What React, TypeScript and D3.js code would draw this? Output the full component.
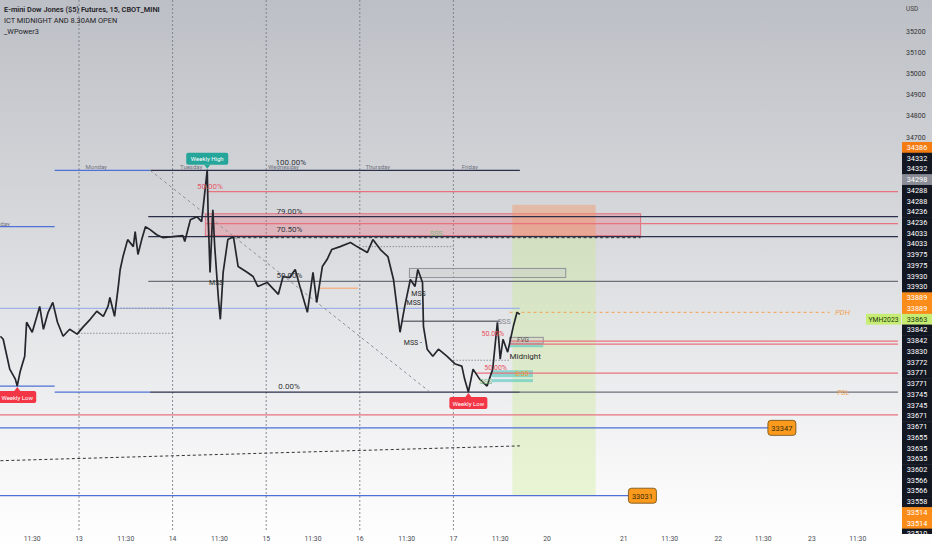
import { useEffect } from "react";
import * as d3 from "d3";

const W = 932;
const H = 550;
const PLOT_R = 898;
const PLOT_B = 530;

// price axis ticks visible above the label stack
const PRICE_TICKS = [35200, 35100, 35000, 34900, 34800, 34700];

// time axis (session days, 13th = 1)
const X_TICK_LABELS = ["11:30", "13", "11:30", "14", "11:30", "15", "11:30", "16", "11:30", "17", "11:30", "20", "21", "11:30", "22", "11:30", "23", "11:30"];
const X_TICK_T = [0.5, 1, 1.5, 2, 2.5, 3, 3.5, 4, 4.5, 5, 5.5, 6, 6.82, 7.31, 7.83, 8.31, 8.83, 9.32];
const DAY_BREAKS = [1, 2, 3, 4, 5];

// 15m price path
const SERIES_T = [0.16, 0.19, 0.23, 0.26, 0.32, 0.34, 0.37, 0.42, 0.44, 0.5, 0.55, 0.58, 0.62, 0.67, 0.72, 0.77, 0.83, 0.9, 0.98, 1.04, 1.12, 1.19, 1.26, 1.31, 1.33, 1.38, 1.42, 1.44, 1.47, 1.52, 1.58, 1.6, 1.63, 1.67, 1.71, 1.76, 1.83, 1.9, 2.0, 2.11, 2.13, 2.19, 2.26, 2.31, 2.37, 2.38, 2.4, 2.43, 2.45, 2.49, 2.51, 2.54, 2.59, 2.65, 2.7, 2.8, 2.86, 2.91, 3.01, 3.13, 3.18, 3.25, 3.31, 3.36, 3.44, 3.5, 3.54, 3.6, 3.65, 3.7, 3.79, 3.9, 3.97, 4.08, 4.14, 4.22, 4.3, 4.36, 4.4, 4.43, 4.48, 4.54, 4.59, 4.62, 4.67, 4.68, 4.72, 4.78, 4.84, 4.93, 5.02, 5.09, 5.12, 5.16, 5.21, 5.28, 5.36, 5.42, 5.47, 5.5, 5.53, 5.58, 5.64, 5.68, 5.71];
const SERIES_P = [33760, 33746, 33666, 33605, 33558, 33525, 33591, 33666, 33826, 33779, 33854, 33901, 33793, 33873, 33920, 33826, 33760, 33793, 33770, 33802, 33840, 33878, 33854, 33901, 33943, 33854, 33995, 34075, 34136, 34216, 34183, 34254, 34146, 34216, 34277, 34263, 34239, 34225, 34230, 34235, 34207, 34310, 34324, 34301, 34545, 34324, 34061, 34357, 34183, 33934, 33840, 34061, 34216, 34230, 34089, 34061, 34042, 33995, 34014, 33958, 34042, 34037, 34075, 33995, 33873, 34061, 33920, 34089, 34122, 34169, 34183, 34202, 34183, 34155, 34216, 34169, 34136, 34028, 33887, 33779, 33901, 34028, 33995, 34075, 34014, 33807, 33699, 33666, 33699, 33666, 33629, 33619, 33558, 33497, 33605, 33558, 33525, 33605, 33826, 33652, 33746, 33685, 33807, 33873, 33863];

// horizontal levels: [price, from t, to t, kind]
const LEVELS: [number, number, number, string][] = [
  [34277, -1, 0.74, "blue"],
  [33525, -1, 0.74, "blue"],
  [34543, 0.74, 1.76, "blue"],
  [34543, 1.76, 5.71, "fib"],
  [34442, 2.37, 10, "red"],
  [34324, 1.74, 10, "fib"],
  [34291, 2.35, 10, "red"],
  [34230, 1.74, 10, "fib"],
  [34225, 2.63, 7.0, "dash"],
  [34183, 4.03, 5.0, "dot"],
  [34019, 1.74, 10, "gray"],
  [33986, 3.57, 3.98, "orange"],
  [33892, -1, 5.71, "blueThin"],
  [33892, 1.44, 2.0, "dot"],
  [33774, 0.99, 2.0, "dot"],
  [33873, 5.6, 9.02, "pdh"],
  [33831, 4.45, 5.5, "gray"],
  [33737, 5.6, 10, "red"],
  [33723, 5.6, 10, "red"],
  [33647, 5.0, 5.6, "dot"],
  [33586, 5.23, 10, "red"],
  [33497, 0.74, 1.76, "blue"],
  [33497, 1.76, 5.71, "fib"],
  [33497, 5.71, 10, "gray"],
  [33389, -1, 10, "red"],
  [33328, -1, 8.36, "blue"],
  [33008, -1, 6.87, "blue"],
];

// boxes: [from t, to t, top price, bottom price, kind]
const BOXES: [number, number, number, number, string][] = [
  [2.35, 7.0, 34338, 34235, "pink"],
  [5.63, 6.52, 34380, 34235, "stop"],
  [5.63, 6.52, 34235, 33008, "target"],
  [4.53, 6.2, 34080, 34037, "grayBox"],
  [5.6, 5.96, 33755, 33727, "grayBox"],
  [5.6, 5.96, 33723, 33708, "teal"],
  [5.41, 5.85, 33600, 33567, "teal"],
  [5.41, 5.85, 33558, 33544, "teal"],
];

// annotations: [text, t, price, kind]
const NOTES: [string, number, number, string][] = [
  ["Friday", 0.26, 34280, "dayEnd"],
  ["Monday", 1.07, 34550, "day"],
  ["Tuesday", 2.08, 34550, "day"],
  ["Wednesday", 3.02, 34550, "day"],
  ["Thursday", 4.06, 34550, "day"],
  ["Friday", 5.09, 34550, "day"],
  ["100.00%", 3.1, 34568, "fib"],
  ["50.00%", 2.26, 34456, "fibRed"],
  ["79.00%", 3.11, 34338, "fib"],
  ["70.50%", 3.11, 34254, "fib"],
  ["50.00%", 3.11, 34033, "fib"],
  ["0.00%", 3.13, 33511, "fib"],
  ["SSS", 4.75, 34232, "sss"],
  ["MSS", 2.39, 34004, "mss"],
  ["MSS", 4.55, 33948, "mss"],
  ["MSS", 4.5, 33906, "mss"],
  ["MSS -", 4.47, 33718, "mss"],
  ["SSS", 5.47, 33817, "sssGray"],
  ["50.00%", 5.3, 33760, "redSmall"],
  ["50.00%", 5.33, 33603, "redSmall"],
  ["SSS", 5.28, 33535, "sss"],
  ["FVG", 5.68, 33734, "fvg"],
  ["Midnight", 5.6, 33652, "mid"],
  ["8:30", 5.66, 33572, "eight"],
  ["PDH", 9.08, 33860, "pdh"],
  ["PDL", 9.1, 33484, "pdl"],
];

// price-scale tag stack
const TAG_VALUES = [34386, 34332, 34332, 34298, 34288, 34288, 34236, 34236, 34033, 34033, 33975, 33975, 33930, 33930, 33889, 33889, 33863, 33842, 33842, 33830, 33772, 33771, 33771, 33745, 33745, 33671, 33671, 33655, 33635, 33635, 33602, 33566, 33566, 33558, 33514, 33514, 33510];
const TAG_KINDS = ["o2", "k", "k", "g", "k", "k", "k", "k", "k", "k", "k", "k", "k", "k", "o", "o", "l", "k", "k", "k", "k", "k", "k", "k", "k", "k", "k", "k", "k", "k", "k", "k", "k", "k", "o", "o", "k"];

const FONT = "Roboto, 'Open Sans', sans-serif";

const LEVEL_STYLE: Record<string, { stroke: string; w: number; dash?: string }> = {
  blue: { stroke: "#4f70d6", w: 1.3 },
  blueThin: { stroke: "#8ea6ea", w: 1 },
  fib: { stroke: "#2b2f4a", w: 1.2 },
  red: { stroke: "#e8727e", w: 1.2 },
  gray: { stroke: "#6d7079", w: 1.3 },
  dash: { stroke: "#303030", w: 1, dash: "3,2.5" },
  dot: { stroke: "#8d9098", w: 1, dash: "1.5,1.5" },
  pdh: { stroke: "#f3a14f", w: 1, dash: "3,3" },
  orange: { stroke: "#f4b58c", w: 1.5 },
};

const BOX_STYLE: Record<string, { fill: string; stroke: string }> = {
  pink: { fill: "rgba(240,90,110,0.28)", stroke: "rgba(226,80,100,0.7)" },
  stop: { fill: "rgba(245,150,100,0.45)", stroke: "none" },
  target: { fill: "rgba(200,235,140,0.35)", stroke: "none" },
  grayBox: { fill: "rgba(200,200,200,0.35)", stroke: "#8f9299" },
  teal: { fill: "rgba(80,200,190,0.6)", stroke: "none" },
};

const NOTE_STYLE: Record<string, { fill: string; size: number; anchor?: string; italic?: boolean }> = {
  day: { fill: "#6f7380", size: 6 },
  dayEnd: { fill: "#6f7380", size: 6, anchor: "end" },
  fib: { fill: "#33353d", size: 8 },
  fibRed: { fill: "#e55b6a", size: 8 },
  sss: { fill: "#7cb87a", size: 7 },
  sssGray: { fill: "#8a8d95", size: 7.5 },
  mss: { fill: "#2a2a2a", size: 7 },
  redSmall: { fill: "#e8505e", size: 7 },
  fvg: { fill: "#555", size: 6.5, italic: true },
  mid: { fill: "#2a2a2a", size: 8 },
  eight: { fill: "#f0a030", size: 7 },
  pdh: { fill: "#f3a14f", size: 7.5, italic: true },
  pdl: { fill: "#f3a14f", size: 6.5 },
};

const TAG_FILL: Record<string, string> = {
  k: "#131722",
  o: "#fb8c1a",
  o2: "#f57c12",
  g: "#8a8d96",
  l: "#c6ec74",
};

export default function App() {
  useEffect(() => {
    document.body.style.margin = "0";
  }, []);

  const x = d3.scaleLinear().domain([1, 6]).range([79, 547]);
  const y = d3.scaleLinear().domain([34700, 35200]).range([137, 31]);

  const pricePath = d3
    .line<number>()
    .x((_, i) => x(SERIES_T[i]))
    .y((d) => y(d))(SERIES_P);

  const tagTop = 142;
  const tagStep = 10.74;

  const highP = d3.max(SERIES_P)!;
  const highT = SERIES_T[SERIES_P.indexOf(highP)];
  const lows: [number, number][] = [
    [0.34, 33525],
    [5.16, 33497],
  ];

  return (
    <svg width={W} height={H} style={{ display: "block" }} fontFamily={FONT}>
      <defs>
        <linearGradient id="bg" x1="0" y1="0" x2="0" y2="1">
          <stop offset="0" stopColor="#bcbfc5" />
          <stop offset="0.45" stopColor="#d9dbde" />
          <stop offset="0.85" stopColor="#f7f7f8" />
          <stop offset="1" stopColor="#ffffff" />
        </linearGradient>
        <clipPath id="plot">
          <rect x={0} y={0} width={PLOT_R} height={PLOT_B} />
        </clipPath>
        <clipPath id="axis">
          <rect x={PLOT_R} y={0} width={W - PLOT_R} height={534} />
        </clipPath>
      </defs>
      <rect width={W} height={H} fill="url(#bg)" />

      <g clipPath="url(#plot)">
        {DAY_BREAKS.map((d) => (
          <line key={d} x1={x(d)} x2={x(d)} y1={0} y2={PLOT_B} stroke="#7c7f87" strokeDasharray="2,2" strokeWidth={0.9} />
        ))}

        {BOXES.map(([t0, t1, p0, p1, k], i) => (
          <rect
            key={i}
            x={x(t0)}
            y={y(p0)}
            width={x(t1) - x(t0)}
            height={y(p1) - y(p0)}
            fill={BOX_STYLE[k].fill}
            stroke={BOX_STYLE[k].stroke}
            strokeWidth={1}
          />
        ))}

        {LEVELS.map(([p, t0, t1, k], i) => (
          <line
            key={i}
            x1={x(t0)}
            x2={x(t1)}
            y1={y(p)}
            y2={y(p)}
            stroke={LEVEL_STYLE[k].stroke}
            strokeWidth={LEVEL_STYLE[k].w}
            strokeDasharray={LEVEL_STYLE[k].dash}
          />
        ))}

        {/* sloped dashed trend line and fib diagonal */}
        <line x1={x(0.16)} y1={y(33173)} x2={x(5.71)} y2={y(33243)} stroke="#333" strokeDasharray="3,2.5" strokeWidth={1} />
        <line x1={x(1.76)} y1={y(34543)} x2={x(4.75)} y2={y(33497)} stroke="#8d9098" strokeDasharray="3,3" strokeWidth={1} />

        <path d={pricePath ?? ""} fill="none" stroke="#23262c" strokeWidth={1.7} strokeLinejoin="bevel" />

        {NOTES.map(([txt, t, p, k], i) => {
          const s = NOTE_STYLE[k];
          return (
            <text
              key={i}
              x={x(t)}
              y={y(p)}
              fontSize={s.size}
              fill={s.fill}
              textAnchor={s.anchor ?? "start"}
              fontStyle={s.italic ? "italic" : "normal"}
            >
              {txt}
            </text>
          );
        })}

        {/* weekly high marker */}
        <g transform={`translate(${x(highT)},${y(highP)})`}>
          <path d="M-3,-5 L0,-1 L3,-5 Z" fill="#26a69a" />
          <rect x={-21} y={-17} width={42} height={12} rx={2} fill="#26a69a" />
          <text x={0} y={-8.5} textAnchor="middle" fontSize={6} fill="#fff">
            Weekly High
          </text>
        </g>
        {lows.map(([t, p], i) => (
          <g key={i} transform={`translate(${x(t)},${y(p)})`}>
            <path d="M-3,5 L0,1 L3,5 Z" fill="#f23645" />
            <rect x={-19} y={5} width={38} height={12} rx={2} fill="#f23645" />
            <text x={0} y={13.5} textAnchor="middle" fontSize={6} fill="#fff">
              Weekly Low
            </text>
          </g>
        ))}

        {/* target price tags */}
        {[
          [8.36, 33328, "33347"],
          [6.87, 33008, "33031"],
        ].map(([t, p, s], i) => (
          <g key={i} transform={`translate(${x(t as number)},${y(p as number)})`}>
            <rect x={0} y={-7.5} width={28} height={15} rx={3} fill="#fb9a1c" stroke="#6b4a10" strokeWidth={0.8} />
            <text x={14} y={2.8} textAnchor="middle" fontSize={7.5} fill="#3a2a10">
              {s as string}
            </text>
          </g>
        ))}
      </g>

      {/* header */}
      <g fontSize={7.4} fill="#1f2228">
        <text x={4} y={12} fontWeight={600}>
          E-mini Dow Jones ($5) Futures, 15, CBOT_MINI
        </text>
        <text x={4} y={23}>ICT MIDNIGHT AND 8.30AM OPEN</text>
        <text x={4} y={34}>_WPower3</text>
      </g>

      {/* price axis */}
      <text x={906} y={11} fontSize={6.5} fill="#444">
        USD
      </text>
      {PRICE_TICKS.map((p) => (
        <text key={p} x={906} y={y(p) + 2.5} fontSize={7} fill="#333">
          {p}
        </text>
      ))}
      <g clipPath="url(#axis)">
        {TAG_VALUES.map((v, i) => {
          const k = TAG_KINDS[i];
          const cy = tagTop + i * tagStep;
          return (
            <g key={i}>
              <rect x={902} y={cy} width={30} height={tagStep + 0.5} fill={TAG_FILL[k]} />
              <text x={917} y={cy + 7.8} textAnchor="middle" fontSize={7.3} fill={k === "l" ? "#1d3a0c" : "#fff"}>
                {v}
              </text>
            </g>
          );
        })}
      </g>
      {/* contract tag next to last price */}
      <rect x={866} y={tagTop + 16 * tagStep} width={35} height={tagStep} fill="#c6ec74" />
      <text x={883.5} y={tagTop + 16 * tagStep + 7.8} textAnchor="middle" fontSize={6.8} fill="#1d3a0c">
        YMH2023
      </text>

      {/* time axis */}
      {X_TICK_LABELS.map((s, i) => (
        <text key={i} x={x(X_TICK_T[i])} y={541} textAnchor="middle" fontSize={6.8} fill="#4a4d55">
          {s}
        </text>
      ))}
    </svg>
  );
}
